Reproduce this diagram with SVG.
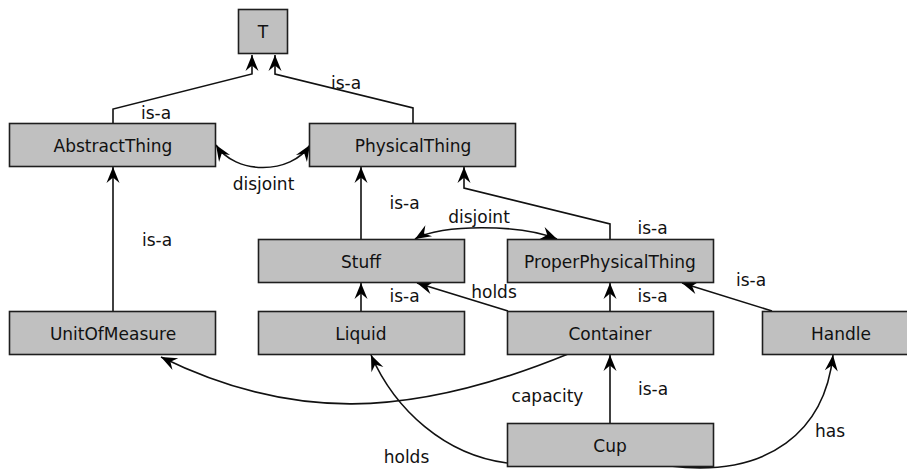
<svg xmlns="http://www.w3.org/2000/svg" width="907" height="471" viewBox="0 0 907 471">
  <style>
    .box { fill: #c0c0c0; stroke: #1e1e1e; stroke-width: 1.6; }
    .lbl { font-family: "DejaVu Sans", "Liberation Sans", sans-serif; font-size: 17px; fill: #111; text-anchor: middle; }
    .edge { fill: none; stroke: #111; stroke-width: 1.6; }
    .arr { marker-end: url(#head); }
    .both { marker-start: url(#head); marker-end: url(#head); }
  </style>
  <defs>
    <marker id="head" markerUnits="userSpaceOnUse" viewBox="-18 -8 19 16" refX="0" refY="0" markerWidth="19" markerHeight="16" orient="auto-start-reverse">
      <path d="M0,0 L-16,-6.5 L-10.5,0 L-16,6.5 Z" fill="#000"/>
    </marker>
  </defs>

  <!-- connectors -->
  <g id="connectors">
    <path class="edge arr" d="M113,123 V109 L252,74 V55"/>
    <path class="edge arr" d="M413,123 V108 L275,74 V55"/>
    <path class="edge both" d="M216,145 C235,175 291,175 310,145"/>
    <path class="edge arr" d="M113,311 V167"/>
    <path class="edge arr" d="M361,239 V167"/>
    <path class="edge arr" d="M610,239 V224 L464,188 V167"/>
    <path class="edge both" d="M415,239 C440,224 520,224 557,239"/>
    <path class="edge arr" d="M361,311 V283"/>
    <path class="edge arr" d="M508,311 L417,283"/>
    <path class="edge arr" d="M610,311 V283"/>
    <path class="edge arr" d="M772,311 L682,283"/>
    <path class="edge arr" d="M610,423 V355"/>
    <path class="edge arr" d="M568,354 C407,420 289,420 161,357"/>
    <path class="edge arr" d="M507,463 C445,455 395,410 371,355"/>
    <path class="edge arr" d="M670,466 C770,478 825,430 833,355"/>

    <text class="lbl" x="156" y="119">is-a</text>
    <text class="lbl" x="346" y="89">is-a</text>
    <text class="lbl" x="263.5" y="190">disjoint</text>
    <text class="lbl" x="157" y="246">is-a</text>
    <text class="lbl" x="404.5" y="209">is-a</text>
    <text class="lbl" x="479" y="223">disjoint</text>
    <text class="lbl" x="652.5" y="234">is-a</text>
    <text class="lbl" x="404.5" y="301.5">is-a</text>
    <text class="lbl" x="494" y="298">holds</text>
    <text class="lbl" x="652.5" y="301.5">is-a</text>
    <text class="lbl" x="751" y="286">is-a</text>
    <text class="lbl" x="547.5" y="401.5">capacity</text>
    <text class="lbl" x="653" y="395">is-a</text>
    <text class="lbl" x="406.5" y="463">holds</text>
    <text class="lbl" x="830" y="437">has</text>
  </g>

  <!-- nodes -->
  <g id="T">
    <rect class="box" x="238.5" y="9.5" width="49" height="44"/>
    <text class="lbl" x="263" y="37.5">T</text>
  </g>
  <g id="AbstractThing">
    <rect class="box" x="9.5" y="123.5" width="206" height="43"/>
    <text class="lbl" x="113" y="151.5">AbstractThing</text>
  </g>
  <g id="PhysicalThing">
    <rect class="box" x="309.5" y="123.5" width="206" height="43"/>
    <text class="lbl" x="413" y="151.5">PhysicalThing</text>
  </g>
  <g id="Stuff">
    <rect class="box" x="258.5" y="239.5" width="206" height="43"/>
    <text class="lbl" x="361" y="267.5">Stuff</text>
  </g>
  <g id="ProperPhysicalThing">
    <rect class="box" x="507.5" y="239.5" width="206" height="43"/>
    <text class="lbl" x="610" y="267.5">ProperPhysicalThing</text>
  </g>
  <g id="UnitOfMeasure">
    <rect class="box" x="9.5" y="311.5" width="206" height="43"/>
    <text class="lbl" x="113" y="339.5">UnitOfMeasure</text>
  </g>
  <g id="Liquid">
    <rect class="box" x="258.5" y="311.5" width="206" height="43"/>
    <text class="lbl" x="361" y="339.5">Liquid</text>
  </g>
  <g id="Container">
    <rect class="box" x="507.5" y="311.5" width="206" height="43"/>
    <text class="lbl" x="610" y="339.5">Container</text>
  </g>
  <g id="Handle">
    <rect class="box" x="762.5" y="311.5" width="160" height="43"/>
    <text class="lbl" x="841" y="339.5">Handle</text>
  </g>
  <g id="Cup">
    <rect class="box" x="507.5" y="423.5" width="206" height="43"/>
    <text class="lbl" x="610" y="451.5">Cup</text>
  </g>
</svg>
